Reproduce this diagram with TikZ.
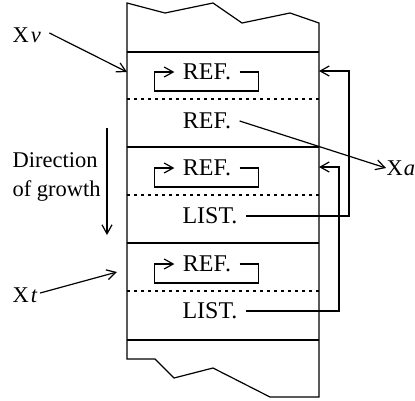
\documentclass[tikz,border=0pt]{standalone}
\usepackage{fontspec}
\setmainfont{Liberation Serif}
\usetikzlibrary{positioning,arrows.meta,calc}
\tikzset{every picture/.style={>={Straight Barb[length=9pt,width=10pt]},line width=1.2pt}}
\tikzset{part line/.style={dash pattern=on 3pt off 4pt}}
\tikzset{cell text/.style={font=\fontsize{24}{28}\selectfont,inner xsep=8pt,inner ysep=2pt}}
\tikzset{side text/.style={font=\fontsize{22.5}{29}\selectfont,inner sep=0pt}}
\begin{document}
\begin{tikzpicture}[x=1pt,y=-1pt]
      \useasboundingbox (0,0) rectangle (415,400);
      \draw (319,397) -- (319,23) -- (290,13) -- (242,23) -- (213,3) -- (165,13) -- (127,3) -- (127,359)
            -- (155,359) -- (174,378) -- (213,368) -- (270,397) -- cycle;
      \foreach \y in {52,147,243,340} \draw (127,\y) -- (319,\y);
      \foreach \y in {99,195,291} \draw [part line] (127,\y) -- (319,\y);
      \foreach \n/\y in {r1/72,r3/168,r4/264} {
        \node [cell text] (\n) at (207,\y) {REF.};
        \draw[->] (\n.east) -- ++(19,0) -- ++(0,19) -| ($(\n.west)-(20,0)$) -- (\n.west);
      }
      \node [cell text] (r2) at (207,121) {REF.};
      \node [cell text] (l1) at (210,216) {LIST.};
      \node [cell text] (l2) at (210,311) {LIST.};
      \node [side text,anchor=west] (xa) at (386,168) {X\kern1pt\textit{a}};
      \node [side text,anchor=west] (xv) at (12,35) {X\kern2pt\textit{v}};
      \node [side text,anchor=west] (xt) at (12,295) {X\kern2pt\textit{t}};
      \node [side text,anchor=west,align=left] (dir) at (12,177) {Direction\\of growth};
      \coordinate (in1) at (319,71);
      \coordinate (in2) at (319,167);
      \coordinate (tv) at (127,72);
      \coordinate (tt) at (117,272);
      \coordinate (g1) at (107,128);
      \coordinate (g2) at (107,235);
      \draw[->] (r2.east) -- (xa.west);
      \draw[->] (l1.east) -- ++(103,0) |- (in1);
      \draw[->] (l2.east) -- ++(93,0) |- (in2);
      \draw[->] ($(xv.east)+(8,-2)$) -- (tv);
      \draw[->] ($(xt.east)+(2,-2)$) -- (tt);
      \draw[->] (g1) -- (g2);
    \end{tikzpicture}
\end{document}
